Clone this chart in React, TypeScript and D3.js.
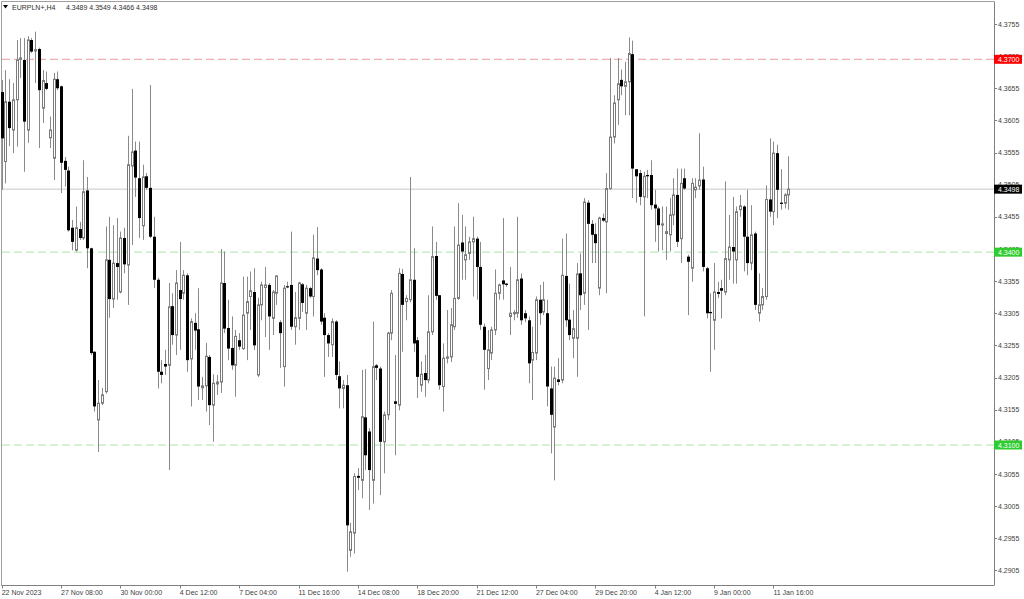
import React from 'react'
import * as d3 from 'd3'

// EURPLN+ H4 candles, left to right (bar 0 = 22 Nov 2023 16:00)
const opens = [
  4.3649, 4.3541, 4.3634, 4.359, 4.3637, 4.37, 4.3699, 4.359, 4.373, 4.3713,
  4.3716, 4.3624, 4.3663, 4.3578, 4.3546, 4.3669, 4.3658, 4.3542, 4.3527, 4.3438,
  4.3403, 4.3436, 4.3422, 4.3496, 4.3406, 4.3245, 4.3139, 4.3165, 4.3183, 4.3388,
  4.3327, 4.3383, 4.3338, 4.3422, 4.338, 4.3534, 4.3558, 4.3515, 4.3441, 4.3518,
  4.35, 4.3424, 4.3357, 4.3214, 4.3226, 4.3224, 4.3316, 4.3271, 4.3341, 4.3336,
  4.3364, 4.3234, 4.329, 4.328, 4.3189, 4.3192, 4.3237, 4.3162, 4.3195, 4.3198,
  4.3352, 4.3282, 4.3251, 4.3224, 4.3263, 4.325, 4.3305, 4.3331, 4.3338, 4.3209,
  4.3318, 4.3345, 4.3349, 4.3297, 4.3336, 4.3291, 4.3222, 4.3347, 4.3349, 4.3284,
  4.3297, 4.335, 4.3305, 4.3344, 4.3331, 4.339, 4.3373, 4.3298, 4.3271, 4.3256,
  4.3292, 4.3207, 4.3188, 4.3193, 4.2936, 4.2963, 4.3052, 4.3045, 4.3143, 4.3121,
  4.3045, 4.3224, 4.3219, 4.3105, 4.3147, 4.3274, 4.3168, 4.3162, 4.3366, 4.3323,
  4.3326, 4.3357, 4.3263, 4.3193, 4.3212, 4.3201, 4.3276, 4.3394, 4.3333, 4.3191,
  4.3235, 4.3237, 4.3284, 4.3328, 4.3415, 4.3388, 4.3398, 4.3416, 4.3421, 4.3377,
  4.3284, 4.3219, 4.3243, 4.3279, 4.3336, 4.3356, 4.3351, 4.33, 4.3304, 4.3305,
  4.3359, 4.3305, 4.3294, 4.3232, 4.3243, 4.3326, 4.3307, 4.3305, 4.3188, 4.3128,
  4.3202, 4.3201, 4.3363, 4.3295, 4.3266, 4.3266, 4.3367, 4.3336, 4.3477, 4.3444,
  4.3428, 4.3344, 4.3453, 4.3447, 4.3499, 4.3579, 4.3637, 4.3668, 4.3658, 4.3665,
  4.3708, 4.3529, 4.3523, 4.3486, 4.352, 4.352, 4.3474, 4.3468, 4.3442, 4.3429,
  4.3427, 4.3458, 4.3489, 4.3421, 4.3515, 4.3393, 4.3375, 4.3497, 4.3503, 4.3513,
  4.3375, 4.3307, 4.3294, 4.3338, 4.3344, 4.3338, 4.3388, 4.3408, 4.3388, 4.3466,
  4.3471, 4.3424, 4.3383, 4.3429, 4.3305, 4.3318, 4.3331, 4.3482, 4.3463, 4.3554,
  4.3477, 4.3476, 4.3489,
]
const highs = [
  4.3668, 4.3683, 4.3669, 4.3663, 4.373, 4.3733, 4.3733, 4.3736, 4.3733, 4.3743,
  4.3718, 4.3683, 4.3681, 4.3611, 4.3679, 4.3681, 4.3659, 4.3548, 4.3533, 4.345,
  4.3471, 4.3447, 4.3543, 4.3517, 4.3407, 4.3246, 4.3201, 4.3189, 4.344, 4.3455,
  4.3442, 4.3453, 4.3432, 4.3438, 4.3581, 4.3654, 4.3572, 4.3572, 4.3536, 4.3523,
  4.366, 4.3455, 4.336, 4.3232, 4.3248, 4.3352, 4.3336, 4.3372, 4.3416, 4.3372,
  4.3367, 4.3297, 4.3305, 4.3344, 4.3206, 4.3259, 4.324, 4.321, 4.3209, 4.3405,
  4.3401, 4.3326, 4.33, 4.3279, 4.3274, 4.3362, 4.3362, 4.337, 4.3375, 4.3329,
  4.3354, 4.3377, 4.3352, 4.3341, 4.3364, 4.3294, 4.3349, 4.3354, 4.3432, 4.3338,
  4.3354, 4.3352, 4.3349, 4.3346, 4.3427, 4.3439, 4.3375, 4.3305, 4.3274, 4.3297,
  4.3294, 4.323, 4.3201, 4.3209, 4.2979, 4.3056, 4.3064, 4.3217, 4.3218, 4.3126,
  4.3292, 4.3226, 4.3222, 4.3152, 4.3276, 4.3341, 4.324, 4.3375, 4.3374, 4.3333,
  4.3517, 4.3406, 4.3268, 4.323, 4.324, 4.3333, 4.344, 4.3416, 4.3333, 4.3258,
  4.331, 4.3313, 4.344, 4.3476, 4.3458, 4.344, 4.3424, 4.3455, 4.3424, 4.3416,
  4.3289, 4.3279, 4.3284, 4.3373, 4.3351, 4.3453, 4.3352, 4.3377, 4.331, 4.3455,
  4.3367, 4.331, 4.33, 4.3284, 4.3331, 4.3349, 4.3354, 4.3326, 4.3222, 4.3222,
  4.3235, 4.3421, 4.3429, 4.3351, 4.331, 4.3383, 4.3398, 4.3484, 4.3481, 4.345,
  4.3445, 4.3455, 4.346, 4.3523, 4.3702, 4.3644, 4.3702, 4.3684, 4.3696, 4.3734,
  4.3729, 4.3529, 4.3528, 4.3525, 4.3528, 4.3543, 4.3497, 4.3471, 4.3471, 4.3471,
  4.3484, 4.3515, 4.353, 4.353, 4.353, 4.3396, 4.3515, 4.3515, 4.3585, 4.3533,
  4.3377, 4.3336, 4.3383, 4.3354, 4.3357, 4.351, 4.3458, 4.3486, 4.3471, 4.3489,
  4.3473, 4.3497, 4.3473, 4.3432, 4.3367, 4.3344, 4.3504, 4.3577, 4.3572, 4.3567,
  4.3529, 4.3492, 4.3549,
]
const lows = [
  4.3497, 4.3507, 4.3565, 4.3554, 4.3564, 4.3671, 4.3525, 4.357, 4.371, 4.3663,
  4.3562, 4.3601, 4.3652, 4.3562, 4.3512, 4.3652, 4.3492, 4.3502, 4.3432, 4.3403,
  4.3401, 4.3419, 4.3419, 4.3375, 4.324, 4.3152, 4.3089, 4.3162, 4.318, 4.3298,
  4.3313, 4.3326, 4.3336, 4.3367, 4.3318, 4.3411, 4.3486, 4.3422, 4.3419, 4.3497,
  4.3422, 4.3344, 4.3188, 4.3196, 4.3209, 4.3061, 4.3256, 4.324, 4.3248, 4.3326,
  4.3214, 4.316, 4.3248, 4.317, 4.317, 4.3152, 4.3131, 4.3105, 4.3178, 4.3181,
  4.3274, 4.3232, 4.3217, 4.3175, 4.3248, 4.3248, 4.3232, 4.3279, 4.3248, 4.3206,
  4.3294, 4.3268, 4.3248, 4.3271, 4.3318, 4.322, 4.3191, 4.3344, 4.3279, 4.3256,
  4.3279, 4.3307, 4.3279, 4.3329, 4.33, 4.3364, 4.3287, 4.3206, 4.3237, 4.3237,
  4.3201, 4.3157, 4.3157, 4.2903, 4.2926, 4.2931, 4.303, 4.3017, 4.3061, 4.2999,
  4.3009, 4.3201, 4.3022, 4.3056, 4.3139, 4.3263, 4.3084, 4.3154, 4.3245, 4.3294,
  4.3322, 4.3245, 4.3173, 4.3183, 4.3175, 4.3196, 4.3271, 4.3326, 4.3186, 4.3152,
  4.3227, 4.3229, 4.3279, 4.3326, 4.3357, 4.3357, 4.3388, 4.3331, 4.3326, 4.3279,
  4.3186, 4.3201, 4.3232, 4.3271, 4.3326, 4.3326, 4.3346, 4.3271, 4.3294, 4.3298,
  4.3287, 4.3291, 4.3196, 4.317, 4.3232, 4.3287, 4.3302, 4.316, 4.3087, 4.3045,
  4.3193, 4.3196, 4.3284, 4.3263, 4.3235, 4.3206, 4.331, 4.3318, 4.3279, 4.3383,
  4.3383, 4.3333, 4.3447, 4.3336, 4.3497, 4.3569, 4.3598, 4.3644, 4.3613, 4.3613,
  4.3484, 4.3477, 4.3473, 4.33, 4.3484, 4.3466, 4.3416, 4.3401, 4.3403, 4.3388,
  4.3401, 4.3442, 4.3408, 4.3383, 4.3497, 4.3302, 4.3354, 4.3484, 4.3497, 4.337,
  4.3297, 4.3214, 4.3248, 4.3329, 4.3297, 4.3333, 4.3357, 4.3351, 4.3351, 4.3455,
  4.337, 4.3364, 4.3372, 4.331, 4.3292, 4.331, 4.3326, 4.3455, 4.3442, 4.3453,
  4.3466, 4.3468, 4.3466,
]
const closes = [
  4.3577, 4.3634, 4.3593, 4.3637, 4.3699, 4.3702, 4.3603, 4.373, 4.3712, 4.3715,
  4.3652, 4.3667, 4.3654, 4.359, 4.3669, 4.3655, 4.3539, 4.3528, 4.3434, 4.3416,
  4.3438, 4.3422, 4.3494, 4.3406, 4.3243, 4.316, 4.3165, 4.3178, 4.3388, 4.3327,
  4.3383, 4.3377, 4.3422, 4.3381, 4.3536, 4.3556, 4.3516, 4.3453, 4.3517, 4.35,
  4.3424, 4.3357, 4.3214, 4.3209, 4.3222, 4.3315, 4.3271, 4.3352, 4.3327, 4.3364,
  4.3232, 4.3292, 4.3278, 4.3191, 4.3192, 4.3238, 4.3162, 4.3196, 4.3198, 4.3352,
  4.3281, 4.325, 4.3224, 4.3269, 4.3253, 4.3302, 4.3323, 4.334, 4.3255, 4.3318,
  4.3349, 4.3349, 4.33, 4.3338, 4.3363, 4.3274, 4.3344, 4.3346, 4.3284, 4.3298,
  4.3352, 4.3321, 4.3344, 4.3331, 4.3391, 4.3372, 4.3292, 4.3271, 4.3258, 4.3292,
  4.3209, 4.3188, 4.3193, 4.2975, 4.2965, 4.3051, 4.3049, 4.3144, 4.3084, 4.3061,
  4.3222, 4.322, 4.3105, 4.3147, 4.3274, 4.3336, 4.3164, 4.3367, 4.3318, 4.3328,
  4.3357, 4.3258, 4.3206, 4.321, 4.3201, 4.3276, 4.3393, 4.3332, 4.3193, 4.3235,
  4.3237, 4.3287, 4.3328, 4.3411, 4.3401, 4.3396, 4.3416, 4.3421, 4.3377, 4.3287,
  4.3248, 4.3248, 4.3279, 4.3336, 4.3349, 4.335, 4.3349, 4.3305, 4.3306, 4.3357,
  4.3294, 4.3297, 4.3227, 4.3244, 4.3326, 4.3305, 4.3326, 4.3191, 4.3147, 4.3204,
  4.3198, 4.3364, 4.3294, 4.3271, 4.3281, 4.3366, 4.3333, 4.3478, 4.3444, 4.3427,
  4.3414, 4.3453, 4.3449, 4.3499, 4.3579, 4.3632, 4.3662, 4.3658, 4.3665, 4.3709,
  4.353, 4.3518, 4.3486, 4.3518, 4.3518, 4.3473, 4.3468, 4.3442, 4.3444, 4.3432,
  4.3458, 4.3489, 4.3416, 4.3507, 4.3499, 4.3385, 4.3507, 4.3501, 4.3512, 4.3377,
  4.3305, 4.3305, 4.3338, 4.3335, 4.334, 4.339, 4.3408, 4.3401, 4.3463, 4.3472,
  4.3424, 4.3383, 4.3427, 4.3318, 4.3318, 4.3331, 4.3482, 4.3463, 4.3554, 4.3497,
  4.3475, 4.3489, 4.3498,
]

const priceTicks = [
  4.3755, 4.3705, 4.3655, 4.3605, 4.3555, 4.3505, 4.3455, 4.3405, 4.3355, 4.3305,
  4.3255, 4.3205, 4.3155, 4.3105, 4.3055, 4.3005, 4.2955, 4.2905,
]
const timeTickBars = [0, 16, 32, 48, 64, 80, 96, 112, 128, 144, 160, 176, 192, 208]
const timeLabels = [
  '22 Nov 2023', '27 Nov 08:00', '30 Nov 00:00', '4 Dec 12:00', '7 Dec 04:00',
  '11 Dec 16:00', '14 Dec 08:00', '18 Dec 20:00', '21 Dec 12:00', '27 Dec 04:00',
  '29 Dec 20:00', '4 Jan 12:00', '9 Jan 00:00', '11 Jan 16:00',
]

// horizontal levels drawn by the user + last bid
const resistanceLevels = [4.37]
const supportLevels = [4.34, 4.31]
const lastPrice = 4.3498

const W = 1024
const H = 599
const axisX = 994
const axisBottom = 585.5
const font = 'Liberation Sans, Arial, sans-serif'

export default function App() {
  const n = opens.length
  const x = d3.scaleLinear().domain([0, 212]).range([1.7, 1.7 + 3.71 * 212])
  const y = d3.scaleLinear().domain([4.37, 4.31]).range([59.3, 445])
  const fmt = d3.format('.4f')

  const candles = d3.range(n).map((i) => {
    const cx = Math.round(x(i)) + 0.5
    const o = opens[i]
    const c = closes[i]
    const top = y(Math.max(o, c))
    const bot = y(Math.min(o, c))
    return { i, cx, o, c, top, bot, hi: y(highs[i]), lo: y(lows[i]) }
  })

  const levelBox = (p: number, bg: string, key: string) => (
    <g key={key}>
      <rect x={axisX} y={y(p) - 4.5} width={28} height={9} fill={bg} />
      <text x={axisX + 4} y={y(p) + 2.6} fontSize={7} fontFamily={font} fill="#fff">
        {fmt(p)}
      </text>
    </g>
  )

  return (
    <svg width={W} height={H} style={{ position: 'absolute', left: 0, top: 0, background: '#fff' }}>
      {/* frame */}
      <line x1={1.5} x2={axisX} y1={1.5} y2={1.5} stroke="#a0a0a0" />
      <line x1={1.5} x2={1.5} y1={1.5} y2={axisBottom} stroke="#a0a0a0" />
      <line x1={axisX + 0.5} x2={axisX + 0.5} y1={1.5} y2={axisBottom} stroke="#808080" />
      <line x1={1.5} x2={axisX} y1={axisBottom} y2={axisBottom} stroke="#808080" />

      {/* right price axis */}
      {priceTicks.map((p) => (
        <g key={p}>
          <line x1={axisX} x2={axisX + 3} y1={Math.round(y(p)) + 0.5} y2={Math.round(y(p)) + 0.5} stroke="#808080" />
          <text x={axisX + 4} y={y(p) + 2.6} fontSize={7} fontFamily={font} fill="#404040">
            {fmt(p)}
          </text>
        </g>
      ))}

      {/* time axis */}
      {timeTickBars.map((b, k) => (
        <g key={b}>
          <line x1={Math.round(x(b)) + 0.5} x2={Math.round(x(b)) + 0.5} y1={axisBottom} y2={axisBottom + 3} stroke="#808080" />
          <text x={x(b)} y={594.5} fontSize={7} fontFamily={font} fill="#404040">
            {timeLabels[k]}
          </text>
        </g>
      ))}

      {/* level lines */}
      <line x1={2} x2={axisX} y1={y(lastPrice)} y2={y(lastPrice)} stroke="#c8c8c8" />
      {resistanceLevels.map((p) => (
        <line key={p} x1={2} x2={axisX} y1={y(p)} y2={y(p)} stroke="#e89a9a" strokeDasharray="8,4" />
      ))}
      {supportLevels.map((p) => (
        <line key={p} x1={2} x2={axisX} y1={y(p)} y2={y(p)} stroke="#a9e3a9" strokeDasharray="8,4" />
      ))}

      {/* candles */}
      {candles.map((d) => (
        <g key={d.i}>
          <line x1={d.cx} x2={d.cx} y1={d.hi} y2={d.lo} stroke="#8a8a8a" />
          {d.c > d.o ? (
            <rect x={d.cx - 1} y={d.top} width={2} height={Math.max(d.bot - d.top, 1)} fill="#fff" stroke="#7a7a7a" />
          ) : d.c < d.o ? (
            <rect x={d.cx - 1.5} y={d.top} width={3} height={Math.max(d.bot - d.top, 1.2)} fill="#000" />
          ) : (
            <line x1={d.cx - 1.5} x2={d.cx + 1.5} y1={d.top} y2={d.top} stroke="#000" />
          )}
        </g>
      ))}

      {/* price labels on axis */}
      {resistanceLevels.map((p) => levelBox(p, '#ff0000', 'r' + p))}
      {supportLevels.map((p) => levelBox(p, '#2ecc2e', 's' + p))}
      {levelBox(lastPrice, '#000', 'last')}

      {/* title */}
      <path d="M3,5 L8,5 L5.5,8.5 Z" fill="#000" />
      <text x={12} y={9.5} fontSize={7} fontFamily={font} fill="#303030">
        EURPLN+,H4
      </text>
      <text x={66} y={9.5} fontSize={7} fontFamily={font} fill="#303030">
        {[opens[n - 1], highs[n - 1], lows[n - 1], closes[n - 1]].map(fmt).join(' ')}
      </text>
    </svg>
  )
}
